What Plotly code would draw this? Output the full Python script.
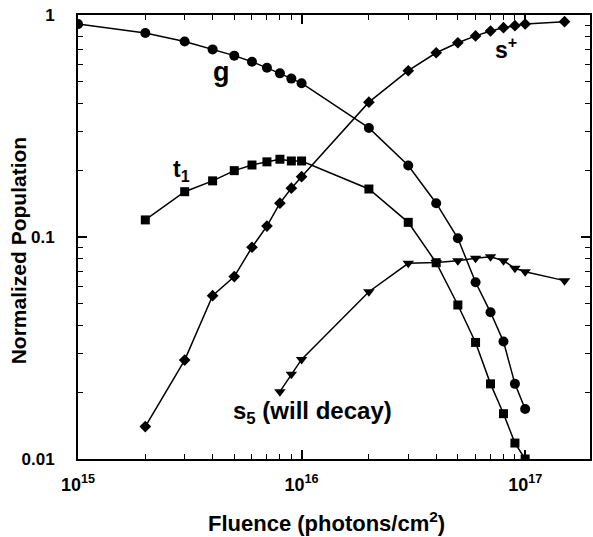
import plotly.graph_objects as go

# Data (fluence in photons/cm^2, normalized population)
g_x = [1e15, 2e15, 3e15, 4e15, 5e15, 6e15, 7e15, 8e15, 9e15, 1e16, 2e16, 3e16, 4e16, 5e16, 6e16, 7e16, 8e16, 9e16, 1e17]
g_y = [0.91, 0.83, 0.76, 0.70, 0.656, 0.616, 0.579, 0.546, 0.517, 0.493, 0.31, 0.21, 0.142, 0.0987, 0.0625, 0.0458, 0.0338, 0.0218, 0.0168]

t1_x = [2e15, 3e15, 4e15, 5e15, 6e15, 7e15, 8e15, 9e15, 1e16, 2e16, 3e16, 4e16, 5e16, 6e16, 7e16, 8e16, 9e16, 1e17]
t1_y = [0.1194, 0.160, 0.179, 0.199, 0.211, 0.218, 0.224, 0.220, 0.220, 0.1645, 0.1164, 0.0766, 0.0494, 0.0335, 0.0218, 0.0160, 0.0118, 0.0100]

sp_x = [2e15, 3e15, 4e15, 5e15, 6e15, 7e15, 8e15, 9e15, 1e16, 2e16, 3e16, 4e16, 5e16, 6e16, 7e16, 8e16, 9e16, 1e17, 1.5e17]
sp_y = [0.014, 0.0279, 0.0544, 0.0663, 0.0899, 0.112, 0.142, 0.166, 0.187, 0.405, 0.561, 0.676, 0.750, 0.805, 0.847, 0.877, 0.895, 0.911, 0.933]

s5_x = [8e15, 9e15, 1e16, 2e16, 3e16, 4e16, 5e16, 6e16, 7e16, 8e16, 9e16, 1e17, 1.5e17]
s5_y = [0.0201, 0.0241, 0.0281, 0.0567, 0.0761, 0.0768, 0.0782, 0.0802, 0.0815, 0.0782, 0.0723, 0.0698, 0.0636]

x_major = [1e15, 1e16, 1e17]
x_major_text = ["10<sup>15</sup>", "10<sup>16</sup>", "10<sup>17</sup>"]
y_major = [0.01, 0.1, 1]
y_major_text = ["0.01", "0.1", "1"]

x_minor = [m * 10 ** e for e in (15, 16, 17) for m in range(2, 10)]
y_minor = [m * 10 ** e for e in (-2, -1) for m in range(2, 10)]

FONT = "Liberation Sans, Arial, Helvetica, sans-serif"

fig = go.Figure()
line = dict(color="black", width=1.5)
fig.add_trace(go.Scatter(x=g_x, y=g_y, mode="lines+markers", line=line,
                         marker=dict(symbol="circle", size=10, color="black"), name="g"))
fig.add_trace(go.Scatter(x=t1_x, y=t1_y, mode="lines+markers", line=line,
                         marker=dict(symbol="square", size=9, color="black"), name="t1"))
fig.add_trace(go.Scatter(x=sp_x, y=sp_y, mode="lines+markers", line=line,
                         marker=dict(symbol="diamond", size=9, color="black"), name="s+"))
fig.add_trace(go.Scatter(x=s5_x, y=s5_y, mode="lines+markers", line=line,
                         marker=dict(symbol="triangle-down", size=10, color="black"), name="s5"))

axis_common = dict(
    showgrid=False, zeroline=False, showline=True, linecolor="black", linewidth=2,
    mirror="ticks", ticks="inside", tickcolor="black", tickwidth=1.5, ticklen=9,
)

fig.update_xaxes(type="log", range=[15, 17.29], tickvals=x_major, ticktext=x_major_text,
                 tickfont=dict(family=FONT, size=18, color="black", weight="bold"),
                 minor=dict(tickvals=x_minor, ticks="inside", ticklen=5, tickcolor="black", tickwidth=1.2, showgrid=False),
                 ticklabelstandoff=8, **axis_common)
fig.update_yaxes(type="log", range=[-2, 0], tickvals=y_major, ticktext=y_major_text,
                 tickfont=dict(family=FONT, size=17, color="black", weight="bold"),
                 minor=dict(tickvals=y_minor, ticks="inside", ticklen=5, tickcolor="black", tickwidth=1.2, showgrid=False),
                 ticklabelstandoff=18, **axis_common)

ann_font = dict(family=FONT, size=23, color="black", weight="bold")
annotations = [
    dict(x=15.641, y=-0.255, text="g", font=dict(family=FONT, size=27, color="black", weight="bold")),
    dict(x=15.465, y=-0.70, text="t<sub>1</sub>", font=ann_font),
    dict(x=16.915, y=-0.15, text="s<sup>+</sup>", font=ann_font),
    dict(x=16.051, y=-1.79, text="s<sub>5</sub> (will decay)", font=dict(family=FONT, size=24, color="black", weight="bold")),
]
for a in annotations:
    a.update(xref="x", yref="y", showarrow=False, xanchor="center", yanchor="middle")

annotations.append(dict(xref="paper", yref="paper", x=0, y=0.47, xshift=-60, textangle=-90,
                        text="Normalized Population", showarrow=False, xanchor="center", yanchor="middle",
                        font=dict(family=FONT, size=21, color="black", weight="bold")))
annotations.append(dict(xref="paper", yref="paper", x=0.486, y=0, yshift=-63,
                        text="Fluence (photons/cm<sup>2</sup>)", showarrow=False, xanchor="center", yanchor="middle",
                        font=dict(family=FONT, size=22, color="black", weight="bold")))

fig.update_layout(
    width=593, height=537,
    margin=dict(l=78, r=1, t=15, b=78),
    paper_bgcolor="white", plot_bgcolor="white",
    showlegend=False,
    annotations=annotations,
)

fig.write_html("out.html")
